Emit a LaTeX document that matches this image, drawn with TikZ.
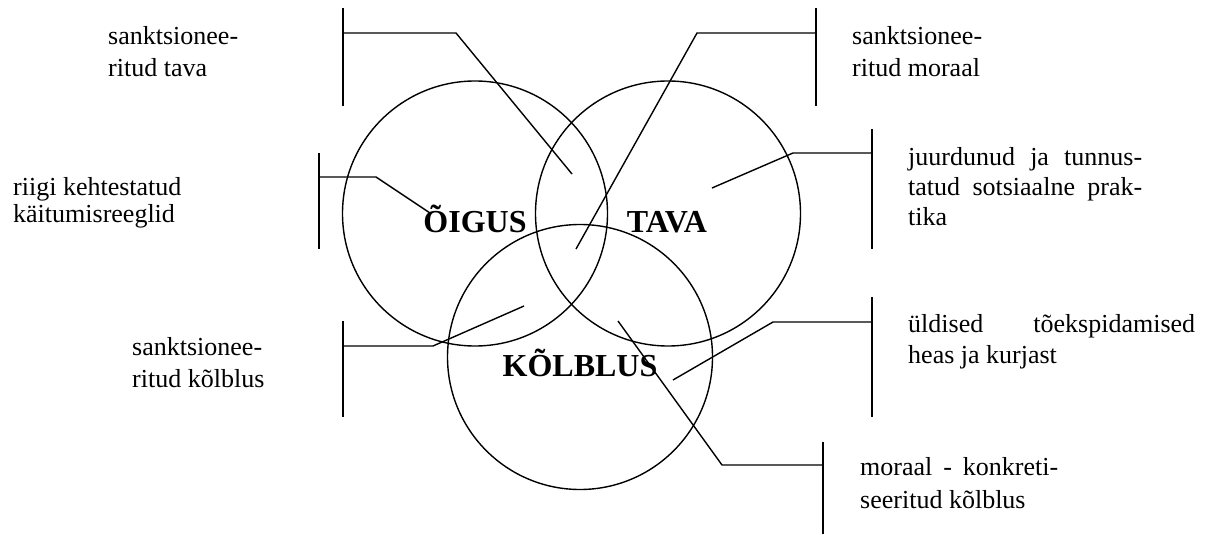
\documentclass[tikz,border=0pt]{standalone}
\usepackage{fontspec}
\setmainfont{Liberation Serif}
\begin{document}
\begin{tikzpicture}[x=1pt,y=-1pt,
  ln/.style={line width=1.4pt,black},
  ring/.style={circle,draw,line width=1.4pt,inner sep=0pt,minimum size=265pt},
  lbl/.style={anchor=base west,inner sep=0pt,font=\fontsize{26}{32}\selectfont},
  big/.style={anchor=base,inner sep=0pt,font=\fontsize{32}{38}\selectfont\bfseries}]
\useasboundingbox (0,0) rectangle (1210,535);
% circles
\node[ring] (O) at (475,213.5) {};
\node[ring] (T) at (668,213.5) {};
\node[ring] (K) at (580,357) {};
\node[big] (Ol) at (475,232) {ÕIGUS};
\node[big] (Tl) at (667,232) {TAVA};
\node[big] (Kl) at (580,376) {KÕLBLUS};
% bracket 1: sanktsioneeritud tava
\coordinate (b1t) at (343,8); \coordinate (b1b) at (343,106);
\coordinate (b1s) at (343,33); \coordinate (b1e) at (456,33); \coordinate (b1p) at (572,174);
\draw[ln] (b1t) -- (b1b);
\draw[ln] (b1s) -- (b1e) -- (b1p);
% bracket 2: sanktsioneeritud moraal
\coordinate (b2t) at (816,8); \coordinate (b2b) at (816,106);
\coordinate (b2s) at (816,33); \coordinate (b2e) at (697,33); \coordinate (b2p) at (576,249);
\draw[ln] (b2t) -- (b2b);
\draw[ln] (b2s) -- (b2e) -- (b2p);
% bracket 3: riigi kehtestatud
\coordinate (b3t) at (319,153); \coordinate (b3b) at (319,249);
\coordinate (b3s) at (319,177); \coordinate (b3e) at (376,177); \coordinate (b3p) at (430,213);
\draw[ln] (b3t) -- (b3b);
\draw[ln] (b3s) -- (b3e) -- (b3p);
% bracket 4: juurdunud
\coordinate (b4t) at (872,129); \coordinate (b4b) at (872,249);
\coordinate (b4s) at (872,153); \coordinate (b4e) at (793,153); \coordinate (b4p) at (712,188);
\draw[ln] (b4t) -- (b4b);
\draw[ln] (b4s) -- (b4e) -- (b4p);
% bracket 5: sanktsioneeritud kolblus
\coordinate (b5t) at (343,321); \coordinate (b5b) at (343,417);
\coordinate (b5s) at (343,346); \coordinate (b5e) at (433,346); \coordinate (b5p) at (524,306);
\draw[ln] (b5t) -- (b5b);
\draw[ln] (b5s) -- (b5e) -- (b5p);
% bracket 6: uldised
\coordinate (b6t) at (872,297); \coordinate (b6b) at (872,417);
\coordinate (b6s) at (872,322); \coordinate (b6e) at (773,322); \coordinate (b6p) at (673,380);
\draw[ln] (b6t) -- (b6b);
\draw[ln] (b6s) -- (b6e) -- (b6p);
% bracket 7: moraal - konkretiseeritud
\coordinate (b7t) at (823,442); \coordinate (b7b) at (823,534);
\coordinate (b7s) at (823,465); \coordinate (b7e) at (722,465); \coordinate (b7p) at (618,321);
\draw[ln] (b7t) -- (b7b);
\draw[ln] (b7s) -- (b7e) -- (b7p);
% texts
\node[lbl] (t1a) at (108,45) {sanktsionee-};
\node[lbl] (t1b) at (108,77) {ritud tava};
\node[lbl] (t2a) at (852,45) {sanktsionee-};
\node[lbl] (t2b) at (852,77) {ritud moraal};
\node[lbl] (t3a) at (13,195) {riigi kehtestatud};
\node[lbl] (t3b) at (13,222) {käitumisreeglid};
\node[lbl] (t4a) at (908,165) {\makebox[234pt][s]{juurdunud ja tunnus-}};
\node[lbl] (t4b) at (908,195) {\makebox[234pt][s]{tatud sotsiaalne prak-}};
\node[lbl] (t4c) at (908,225) {tika};
\node[lbl] (t5a) at (132,355) {sanktsionee-};
\node[lbl] (t5b) at (132,387) {ritud kõlblus};
\node[lbl] (t6a) at (908,332) {\makebox[287pt][s]{üldised tõekspidamised}};
\node[lbl] (t6b) at (908,363) {heas ja kurjast};
\node[lbl] (t7a) at (860,475) {\makebox[198pt][s]{moraal - konkreti-}};
\node[lbl] (t7b) at (860,508) {seeritud kõlblus};
\end{tikzpicture}
\end{document}
